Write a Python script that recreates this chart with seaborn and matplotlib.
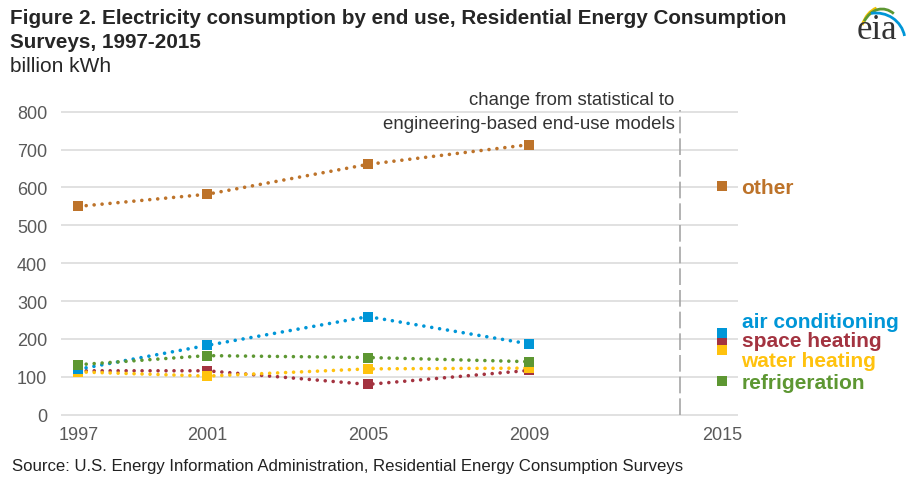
import matplotlib as mpl
mpl.use("Agg")
import matplotlib.pyplot as plt
import seaborn as sns
import pandas as pd
from matplotlib.patches import Arc

## ---------------- DATOS ---------------- ##

years = ["1997", "2001", "2005", "2009"]
year_new = "2015"

end_uses = ["other", "space heating", "water heating", "air conditioning", "refrigeration"]
other = [550, 582, 661, 713]
space_heating = [116, 116, 80, 117]
water_heating = [113, 102, 121, 123]
air_conditioning = [120, 183, 259, 187]
refrigeration = [132, 156, 151, 140]
values_2015 = [603, 197, 172, 217, 88]

colores = ["#BD732A", "#A33340", "#FFC20E", "#0096D7", "#5D9732"]

## ---------------- LAYOUT ---------------- ##

x_slots = [0.2, 1, 2, 3]
x_2015 = 4.2
x_break = 3.94
label_y = [601, 195, 144, 245, 84]

df = pd.DataFrame({
  "year": years * 5,
  "x": x_slots * 5,
  "uso": sum([[u] * 4 for u in end_uses], []),
  "valor": other + space_heating + water_heating + air_conditioning + refrigeration,
})

sns.set_style("white")
plt.rcParams['font.family'] = ['Liberation Sans', 'DejaVu Sans']

fig = plt.figure(figsize=(9.12, 4.89), dpi=100)
ax = fig.add_axes([61/912, 1-417.6/489, (738-61)/912, (417.6-110.8)/489])

for i, uso in enumerate(end_uses):
  sub = df[df["uso"] == uso]
  sns.lineplot(data=sub, x="x", y="valor", ax=ax, color=colores[i],
               linewidth=2.6, linestyle=(0, (0.01, 2.2)), dash_capstyle="round",
               marker="s", markersize=7.2, markeredgewidth=0, zorder=3+i)
  ax.plot([x_2015], [values_2015[i]], marker="s", markersize=7.2,
          markeredgewidth=0, color=colores[i], zorder=3+i, linestyle="none")
  ax.text(4.32, label_y[i], uso, color=colores[i], fontsize=15, fontweight="bold",
          ha="left", va="center", clip_on=False)

ax.set_xlim(0.093, 4.298)
ax.set_ylim(-5, 805)
ax.set_yticks(range(0, 801, 100))
ax.set_xticks(x_slots + [x_2015])
ax.set_xticklabels(years + [year_new])
ax.tick_params(axis="both", length=0, labelsize=13, colors="#595959")
ax.tick_params(axis="y", pad=10)
ax.tick_params(axis="x", pad=7)
ax.set_xlabel("")
ax.set_ylabel("")
for s in ax.spines.values():
  s.set_visible(False)
ax.yaxis.grid(True, color="#d9d9d9", linewidth=1.1)
ax.set_axisbelow(True)

ax.plot([x_break, x_break], [0, 805], color="#a6a6a6", linewidth=1.2,
        linestyle=(0, (10, 3)), zorder=2, clip_on=False)

ax.text(3.905, 831, "change from statistical to", ha="right", va="center",
        fontsize=13.4, color="#333333", clip_on=False)
ax.text(3.905, 770, "engineering-based end-use models", ha="right", va="center",
        fontsize=13.4, color="#333333", clip_on=False)

## ---------------- TITULOS ---------------- ##

fig.text(10/912, 1-19/489, "Figure 2. Electricity consumption by end use, Residential Energy Consumption",
         fontsize=14.9, fontweight="bold", va="center", ha="left")
fig.text(10/912, 1-43/489, "Surveys, 1997-2015",
         fontsize=14.9, fontweight="bold", va="center", ha="left")
fig.text(10/912, 1-67/489, "billion kWh", fontsize=15, va="center", ha="left")
fig.text(12/912, 1-467/489,
         "Source: U.S. Energy Information Administration, Residential Energy Consumption Surveys",
         fontsize=12.1, color="#222222", va="center", ha="left")

## ---------------- LOGO ---------------- ##

lg = fig.add_axes([845/912, 1-50/489, 67/912, 50/489])
lg.set_xlim(845, 912)
lg.set_ylim(50, 0)
lg.axis("off")
lg.text(877, 39, "eia", family=['Liberation Serif', 'DejaVu Serif'], fontsize=25,
        ha="center", va="baseline", color="#333333")
lg.add_patch(Arc((882, 40), 44, 64, theta1=-145, theta2=-100, color="#F2C200", linewidth=2.0))
lg.add_patch(Arc((882, 40), 44, 60, theta1=-135, theta2=-65, color="#5D9732", linewidth=2.0))
lg.add_patch(Arc((876, 42), 58, 56, theta1=-100, theta2=-10, color="#0096D7", linewidth=2.0))

fig.savefig("out.png", dpi=100)
